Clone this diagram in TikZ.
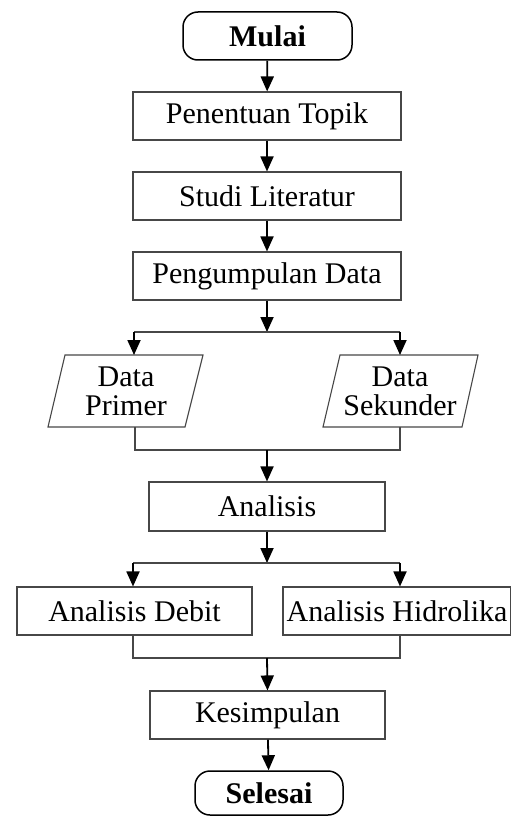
\documentclass[tikz,border=0pt]{standalone}
\usepackage{fontspec}
\setmainfont{Liberation Serif}
\usetikzlibrary{arrows.meta}
\begin{document}
\begin{tikzpicture}[x=1pt,y=-1pt,
  box/.style={draw=black!72, line width=1.1pt, minimum height=48pt, inner sep=0pt,
    font=\fontsize{30}{29}\selectfont},
  term/.style={box, draw=black, line width=1.5pt, rounded corners=15pt,
    font=\fontsize{30}{29}\selectfont\bfseries},
  txt/.style={inner sep=0pt, align=center, font=\fontsize{30}{29}\selectfont},
  arr/.style={draw=black, line width=1.8pt, -{Triangle[length=15pt,width=13pt]}},
  link/.style={draw=black!72, line width=1.1pt}]
\useasboundingbox (0,0) rectangle (511,816);
\fill[white] (0,0) rectangle (511,816);

% nodes
\node[term, minimum width=169pt] (mulai) at (267.5,36) {Mulai};
\node[box, minimum width=268pt] (topik) at (267,116) {Penentuan Topik};
\node[box, minimum width=268pt] (studi) at (267,196) {Studi Literatur};
\node[box, minimum width=268pt] (kumpul) at (267,276) {Pengumpulan Data};

% parallelograms
\coordinate (p1) at (65,355);  \coordinate (p2) at (203,355);
\coordinate (p3) at (185,427); \coordinate (p4) at (48,427);
\coordinate (q1) at (340,355); \coordinate (q2) at (478,355);
\coordinate (q3) at (462,427); \coordinate (q4) at (323,427);
\draw[link] (p1) -- (p2) -- (p3) -- (p4) -- cycle;
\draw[link] (q1) -- (q2) -- (q3) -- (q4) -- cycle;
\node[txt] (primer) at (126,391) {Data\\Primer};
\node[txt] (sekunder) at (400,391) {Data\\Sekunder};

\node[box, minimum width=236pt, minimum height=49pt] (analisis) at (267,506.5) {Analisis};
\node[box, minimum width=235pt] (debit) at (134.5,611) {Analisis Debit};
\node[box, minimum width=228pt] (hidro) at (397,611) {Analisis Hidrolika};
\node[box, minimum width=235pt] (kesim) at (267.5,715) {Kesimpulan};
\node[term, minimum width=148pt, minimum height=44pt] (selesai) at (269,793) {Selesai};

% coordinates for junctions
\coordinate (s1) at (267,332);
\coordinate (s1l) at (134,332);
\coordinate (s1r) at (400,332);
\coordinate (pt) at (134,355);
\coordinate (st) at (400,355);
\coordinate (pb) at (135,427);
\coordinate (sb) at (400,427);
\coordinate (m1) at (267,450);
\coordinate (s2) at (267,563);
\coordinate (s2l) at (133,563);
\coordinate (s2r) at (400,563);
\coordinate (m2) at (267,658);

% connectors
\draw[arr] (mulai) -- (topik);
\draw[arr] (topik) -- (studi);
\draw[arr] (studi) -- (kumpul);
\draw[arr] (kumpul) -- (s1);
\draw[link] (s1l) -- (s1r);
\draw[arr] (s1l) -- (pt);
\draw[arr] (s1r) -- (st);
\draw[link] (pb) |- (m1) -| (sb);
\draw[arr] (m1) -- (analisis.north);
\draw[arr] (analisis) -- (s2);
\draw[link] (s2l) -- (s2r);
\draw[arr] (s2l) -- (s2l |- debit.north);
\draw[arr] (s2r) -- (s2r |- hidro.north);
\draw[link] (s2l |- debit.south) |- (m2) -| (s2r |- hidro.south);
\draw[arr] (m2) -- (kesim.north);
\draw[arr] (kesim) -- (selesai);
\end{tikzpicture}
\end{document}
